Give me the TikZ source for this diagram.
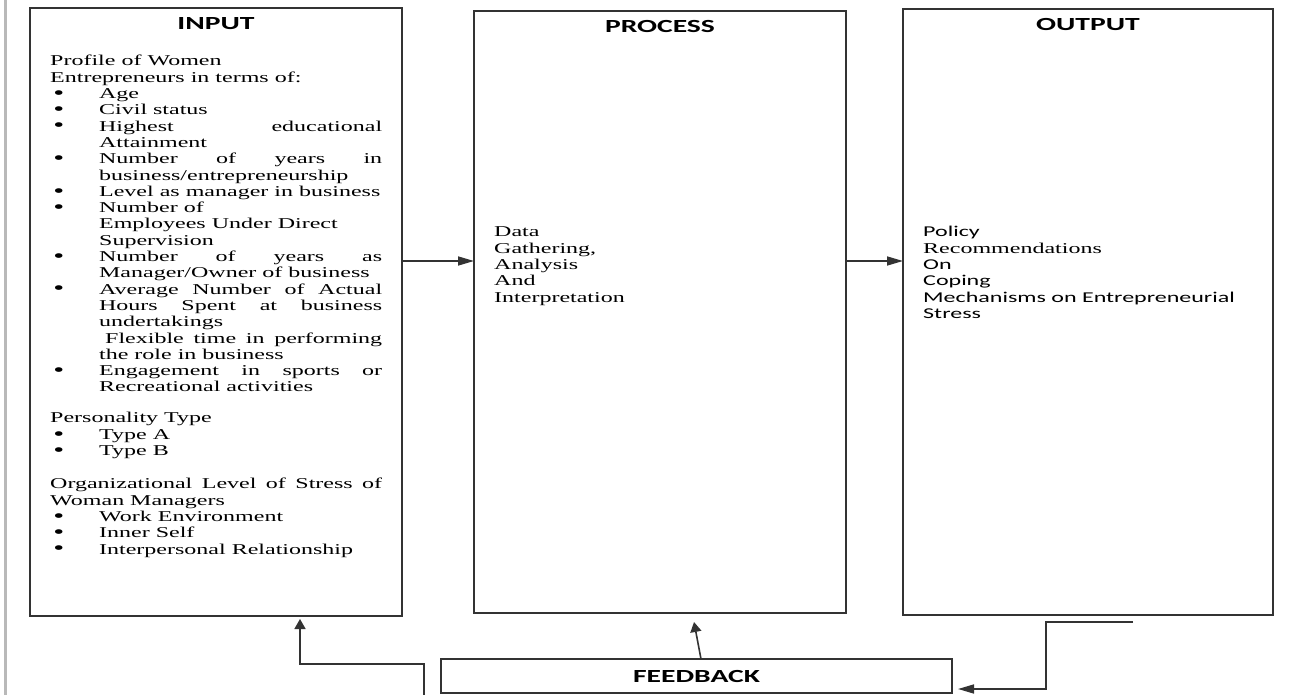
\documentclass[tikz,border=0pt]{standalone}
\usepackage{fontspec}
\setmainfont{Liberation Serif}
\newfontfamily\calibri{Carlito}
\usepackage{graphicx}
\usepackage{enumitem}
\usepackage{tikz}
\usetikzlibrary{arrows.meta,positioning}
\newcommand{\wide}[1]{\scalebox{1.6}[1]{#1}}
\setlist[itemize]{label=\raisebox{-0.8pt}{\scalebox{1.3}{\textbullet}},leftmargin=30.6pt,labelwidth=28.6pt,labelsep=0pt,align=left,topsep=0pt,partopsep=0pt,itemsep=0pt,parsep=0pt}

\begin{document}
\begin{tikzpicture}[x=1pt,y=-1pt,>={Triangle[length=16pt,width=9pt]}]
  \tikzstyle{stagebox}=[draw=black!80,line width=1.8pt,minimum width=372pt,minimum height=606pt,inner sep=0pt,outer sep=0pt]
  \tikzstyle{stagehead}=[font=\calibri\bfseries\fontsize{18.5}{20}\selectfont,inner sep=0pt,anchor=base]
  \tikzstyle{stagetext}=[font=\fontsize{15}{16.3}\selectfont,inner sep=0pt,anchor=base west]
  \tikzstyle{flowline}=[draw=black!80,line width=1.6pt]
  \tikzstyle{uptip}=[-{Triangle[length=10pt,width=11pt]}]
  \useasboundingbox (0,0) rectangle (1315,695);
  \draw[gray!55,line width=2.5pt] (5.5,0) -- (5.5,695);
  % the three stages
  \node[stagebox,minimum height=608pt] (input) at (216,312) {};
  \node[stagebox,minimum height=602pt,right=72pt of input] (proc) {};
  \node[stagebox,minimum width=370pt,right=57pt of proc] (output) {};
  \node[stagehead] (inhead) at ([yshift=-22pt]input.north) {\wide{INPUT}};
  \node[stagehead] (prochead) at ([yshift=-22pt]proc.north) {\wide{PROCESS}};
  \node[stagehead] (outhead) at ([yshift=-22pt]output.north) {\wide{OUTPUT}};
  \node[stagetext] (intext) at ([shift={(20,58)}]input.north west) {\wide{\begin{minipage}[t]{207.5pt}
    \sloppy\hyphenpenalty=10000\exhyphenpenalty=10000
    Profile of Women\\
    Entrepreneurs in terms of:
    \begin{itemize}
      \item Age
      \item Civil status
      \item Highest educational Attainment
      \item Number of years in business/entrepreneurship
      \item Level as manager in business
      \item Number of\\ Employees Under Direct\\ Supervision
      \item Number of years as Manager/Owner of business
      \item Average Number of Actual Hours Spent at business undertakings\\ \hspace*{3.75pt}Flexible time in performing the role in business
      \item Engagement in sports or Recreational activities
    \end{itemize}
    \vspace{14.7pt}
    Personality Type
    \begin{itemize}
      \item Type A
      \item Type B
    \end{itemize}
    \vspace{17pt}
    Organizational Level of Stress of Woman Managers
    \begin{itemize}
      \item Work Environment
      \item Inner Self
      \item Interpersonal Relationship
    \end{itemize}
  \end{minipage}}};
  \node[stagetext] (proctext) at ([shift={(20,226)}]proc.north west) {\wide{\begin{minipage}[t]{150pt}\raggedright
    Data\\ Gathering,\\ Analysis\\ And\\ Interpretation
  \end{minipage}}};
  \node[stagetext] (outtext) at ([shift={(20,228)}]output.north west) {\wide{\begin{minipage}[t]{220pt}\raggedright
    {\calibri Policy}\\ Recommendations\\ {\calibri On}\\ {\calibri Coping}\\ {\calibri Mechanisms on Entrepreneurial}\\ {\calibri Stress}
  \end{minipage}}};
  % feedback
  \node[draw=black!80,line width=1.6pt,minimum width=511pt,minimum height=34pt,inner sep=0pt,outer sep=0pt,
    font=\calibri\bfseries\fontsize{18.5}{20}\selectfont,below=46pt of proc,xshift=36.5pt] (feedback) {\wide{FEEDBACK}};
  \coordinate (flowy) at (0,261);
  \coordinate (outtail) at (1133,622);
  \coordinate (fbturn) at (1046,622);
  \coordinate (fbtail) at (424,695);
  \coordinate (fbbend) at (300,664);
  \draw[flowline,->] (input.east |- flowy) -- (proc.west |- flowy);
  \draw[flowline,->] (proc.east |- flowy) -- (output.west |- flowy);
  \draw[flowline,->] (outtail) -- (fbturn) |- ([shift={(6,13)}]feedback.east);
  \draw[flowline,uptip] ([xshift=4.5pt]feedback.north) -- ([shift={(34,9)}]proc.south);
  \draw[flowline,uptip] (fbtail) |- (fbbend) -- ([yshift=-3pt]fbbend |- input.south);
\end{tikzpicture}
\end{document}
